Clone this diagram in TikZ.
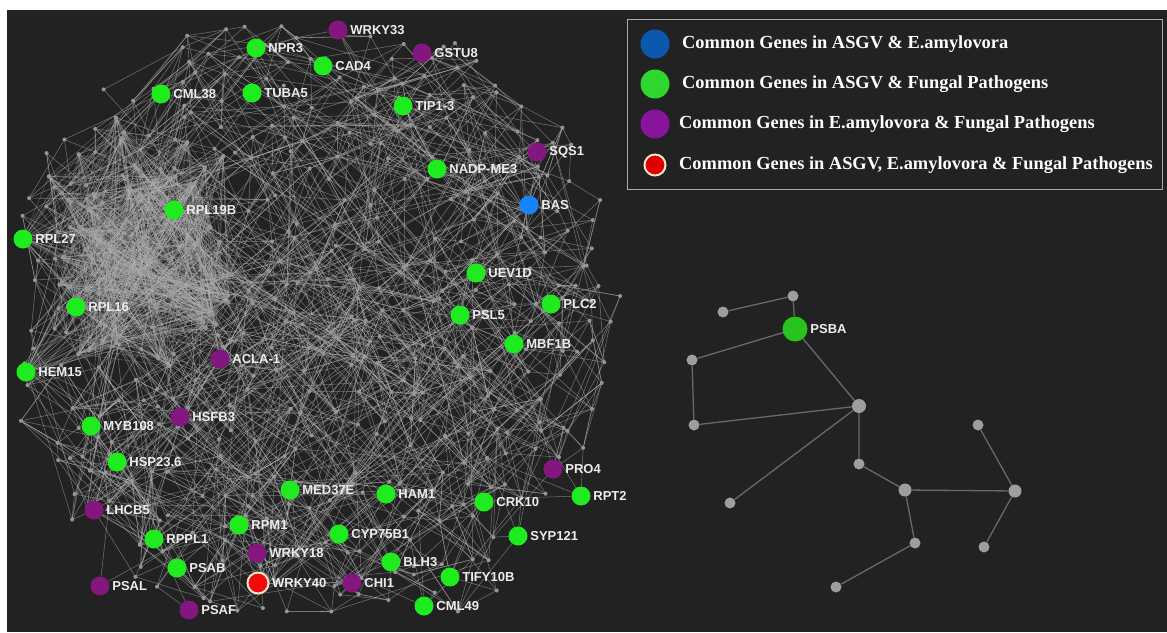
\documentclass[tikz,border=0pt]{standalone}
\usepackage{fontspec}
\setmainfont{Liberation Serif}
\setsansfont{Liberation Sans}
\usetikzlibrary{calc}

\definecolor{bgdark}{RGB}{34,34,34}
\definecolor{edgec}{RGB}{180,180,180}
\definecolor{dotc}{RGB}{150,150,150}
\definecolor{genegreen}{RGB}{30,236,30}
\definecolor{genepurple}{RGB}{132,22,128}
\definecolor{geneblue}{RGB}{22,132,250}
\definecolor{genered}{RGB}{240,12,12}
\definecolor{cream}{RGB}{245,228,200}
\definecolor{labc}{RGB}{236,236,236}
\definecolor{legblue}{RGB}{12,88,175}
\definecolor{leggreen}{RGB}{45,215,45}
\definecolor{legpurple}{RGB}{135,20,155}
\definecolor{legred}{RGB}{225,0,0}
\definecolor{psbagreen}{RGB}{40,195,28}
\definecolor{subedge}{RGB}{105,105,105}
\definecolor{subnode}{RGB}{158,158,158}
\definecolor{legframe}{RGB}{170,170,170}

\pgfdeclarelayer{backdrop}
\pgfdeclarelayer{edges}
\pgfdeclarelayer{dots}
\pgfsetlayers{backdrop,edges,dots,main}

\tikzset{
  net/.style={draw=edgec, line width=0.55pt, opacity=0.52},
  clique/.style={draw=edgec, line width=0.5pt, opacity=0.38},
  genelab/.style={text=labc, font=\sffamily\bfseries\fontsize{13}{15}\selectfont,
                  inner sep=0pt, label distance=2.5pt},
  gene/.style={circle, inner sep=0pt, minimum size=19pt,
               label={[genelab]right:#1}},
  subnet/.style={draw=subedge, line width=1.3pt},
  subdot/.style={circle, fill=subnode, inner sep=0pt, minimum size=#1},
  legdot/.style={circle, inner sep=0pt, minimum size=29pt},
  legtext/.style={anchor=west, text=white, inner sep=0pt,
                  font=\rmfamily\bfseries\fontsize{18.4}{20}\selectfont},
}

% a labelled gene: name, x, y, fill colour, text
\newcommand\genenode[5]{\node[gene={#5}, fill=#4] (#1) at (#2,#3) {};}

% jittered grid of unlabelled interaction partners
\def\gs{21}
% wire a labelled gene into the grid: name, x, y, number of tries
\newcommand\hookgene[4]{%
  \pgfmathtruncatemacro{\hr}{round((#3-14)/\gs)}%
  \pgfmathtruncatemacro{\hc}{round((#2-8)/\gs)}%
  \foreach \k in {1,...,#4}{%
    \pgfmathtruncatemacro{\rr}{\hr+random(0,8)-4}%
    \pgfmathtruncatemacro{\cc}{\hc+random(0,8)-4}%
    \ifcsname ex@\rr @\cc\endcsname
      \draw[net] (#1) -- (g-\rr-\cc);
    \fi
  }%
}

\begin{document}
\begin{tikzpicture}[x=1pt, y=-1pt]
\useasboundingbox (0,0) rectangle (1167,632);
\begin{pgfonlayer}{backdrop}
  \fill[white] (0,0) rectangle (1167,632);
  \fill[bgdark] (7,10) rectangle (1167,632);
\end{pgfonlayer}

\pgfmathsetseed{4242}

% ---- grid points inside a rounded blob with clipped corners
\foreach \r in {0,...,30}{
  \foreach \c in {0,...,30}{
    \pgfmathsetmacro{\cx}{\c*\gs+8}
    \pgfmathsetmacro{\cy}{\r*\gs+14}
    \pgfmathsetmacro{\blob}{abs((\cx-315)/303)^2.5+abs((\cy-320)/303)^2.5}
    \pgfmathtruncatemacro{\keep}{(\blob<1)&&(\cx+\cy>200)&&(\cx+0.8*\cy<960)&&(\cx-\cy<460)&&(\cx-0.4*\cy>-137)&&(rnd<0.64)}
    \ifnum\keep=1
      \pgfmathsetmacro{\px}{\cx+(rnd-0.5)*\gs*0.95}
      \pgfmathsetmacro{\py}{\cy+(rnd-0.5)*\gs*0.95}
      \coordinate (g-\r-\c) at (\px,\py);
      \expandafter\xdef\csname ex@\r @\c\endcsname{1}
    \fi
  }
}

% ---- dense ribosomal cluster on the left
\foreach \i in {1,...,58}{
  \pgfmathsetmacro{\ang}{rnd*360}
  \pgfmathsetmacro{\rad}{max(sqrt(rnd),0.2)}
  \coordinate (q-\i) at ({135+118*\rad*cos(\ang)},{245+135*\rad*sin(\ang)});
}

% ---- labelled genes
\genenode{wrky33}{338}{30}{genepurple}{WRKY33}
\genenode{gstu8}{422}{53}{genepurple}{GSTU8}
\genenode{npr3}{256}{48}{genegreen}{NPR3}
\genenode{cad4}{323}{66}{genegreen}{CAD4}
\genenode{cml38}{161}{94}{genegreen}{CML38}
\genenode{tuba5}{252}{93}{genegreen}{TUBA5}
\genenode{tip13}{403}{106}{genegreen}{TIP1-3}
\genenode{sqs1}{537}{152}{genepurple}{SQS1}
\genenode{nadpme3}{437}{169}{genegreen}{NADP-ME3}
\genenode{bas}{529}{205}{geneblue}{BAS}
\genenode{rpl19b}{174}{210}{genegreen}{RPL19B}
\genenode{rpl27}{23}{239}{genegreen}{RPL27}
\genenode{uev1d}{476}{273}{genegreen}{UEV1D}
\genenode{plc2}{551}{304}{genegreen}{PLC2}
\genenode{psl5}{460}{315}{genegreen}{PSL5}
\genenode{mbf1b}{514}{344}{genegreen}{MBF1B}
\genenode{rpl16}{76}{307}{genegreen}{RPL16}
\genenode{acla1}{220}{359}{genepurple}{ACLA-1}
\genenode{hem15}{26}{372}{genegreen}{HEM15}
\genenode{hsfb3}{180}{417}{genepurple}{HSFB3}
\genenode{myb108}{91}{426}{genegreen}{MYB108}
\genenode{hsp236}{117}{462}{genegreen}{HSP23.6}
\genenode{pro4}{553}{469}{genepurple}{PRO4}
\genenode{med37e}{290}{490}{genegreen}{MED37E}
\genenode{ham1}{386}{494}{genegreen}{HAM1}
\genenode{crk10}{484}{502}{genegreen}{CRK10}
\genenode{rpt2}{581}{496}{genegreen}{RPT2}
\genenode{lhcb5}{94}{510}{genepurple}{LHCB5}
\genenode{rpm1}{239}{525}{genegreen}{RPM1}
\genenode{cyp75b1}{339}{534}{genegreen}{CYP75B1}
\genenode{syp121}{518}{536}{genegreen}{SYP121}
\genenode{rppl1}{154}{539}{genegreen}{RPPL1}
\genenode{wrky18}{257}{553}{genepurple}{WRKY18}
\genenode{blh3}{391}{562}{genegreen}{BLH3}
\genenode{psab}{177}{568}{genegreen}{PSAB}
\genenode{tify10b}{450}{577}{genegreen}{TIFY10B}
\genenode{psal}{100}{586}{genepurple}{PSAL}
\node[gene={WRKY40}, fill=genered, draw=cream, line width=2pt, minimum size=21pt]
  (wrky40) at (258,583) {};
\genenode{chi1}{352}{583}{genepurple}{CHI1}
\genenode{psaf}{189}{610}{genepurple}{PSAF}
\genenode{cml49}{424}{606}{genegreen}{CML49}

\begin{pgfonlayer}{edges}
  % grid interactions: short local links, some long ones, a few very long ones
  \foreach \r in {0,...,30}{
    \foreach \c in {0,...,30}{
      \ifcsname ex@\r @\c\endcsname
        \foreach \k in {1,...,5}{
          \pgfmathtruncatemacro{\rr}{\r+random(0,6)-3}
          \pgfmathtruncatemacro{\cc}{\c+random(0,6)-3}
          \ifcsname ex@\rr @\cc\endcsname
            \draw[net] (g-\r-\c) -- (g-\rr-\cc);
          \fi
        }
        \foreach \k in {1,...,3}{
          \pgfmathtruncatemacro{\rr}{\r+random(0,18)-9}
          \pgfmathtruncatemacro{\cc}{\c+random(0,18)-9}
          \ifcsname ex@\rr @\cc\endcsname
            \draw[net] (g-\r-\c) -- (g-\rr-\cc);
          \fi
        }
        \pgfmathtruncatemacro{\rr}{\r+random(0,28)-14}
        \pgfmathtruncatemacro{\cc}{\c+random(0,28)-14}
        \ifcsname ex@\rr @\cc\endcsname
          \draw[net] (g-\r-\c) -- (g-\rr-\cc);
        \fi
      \fi
    }
  }
  % the left cluster is almost fully connected
  \foreach \i in {1,...,58}{
    \foreach \j in {1,...,58}{
      \pgfmathtruncatemacro{\pick}{(\j>\i)&&(rnd<0.45)}
      \ifnum\pick=1 \draw[clique] (q-\i) -- (q-\j); \fi
    }
  }
  \foreach \g in {rpl27,rpl19b,rpl16,hem15}{
    \foreach \j in {1,...,58}{
      \pgfmathtruncatemacro{\pick}{rnd<0.45}
      \ifnum\pick=1 \draw[clique] (\g) -- (q-\j); \fi
    }
  }
  % labelled genes into the grid
  \hookgene{wrky33}{338}{30}{8}
  \hookgene{gstu8}{422}{53}{8}
  \hookgene{npr3}{256}{48}{8}
  \hookgene{cad4}{323}{66}{8}
  \hookgene{cml38}{161}{94}{8}
  \hookgene{tuba5}{252}{93}{8}
  \hookgene{tip13}{403}{106}{8}
  \hookgene{sqs1}{537}{152}{8}
  \hookgene{nadpme3}{437}{169}{8}
  \hookgene{bas}{529}{205}{8}
  \hookgene{rpl19b}{174}{210}{5}
  \hookgene{rpl27}{23}{239}{5}
  \hookgene{uev1d}{476}{273}{8}
  \hookgene{plc2}{551}{304}{8}
  \hookgene{psl5}{460}{315}{8}
  \hookgene{mbf1b}{514}{344}{8}
  \hookgene{rpl16}{76}{307}{5}
  \hookgene{acla1}{220}{359}{8}
  \hookgene{hem15}{26}{372}{10}
  \hookgene{hsfb3}{180}{417}{8}
  \hookgene{myb108}{91}{426}{10}
  \hookgene{hsp236}{117}{462}{10}
  \hookgene{pro4}{553}{469}{10}
  \hookgene{med37e}{290}{490}{8}
  \hookgene{ham1}{386}{494}{8}
  \hookgene{crk10}{484}{502}{8}
  \hookgene{rpt2}{581}{496}{10}
  \hookgene{lhcb5}{94}{510}{12}
  \hookgene{rpm1}{239}{525}{8}
  \hookgene{cyp75b1}{339}{534}{8}
  \hookgene{syp121}{518}{536}{10}
  \hookgene{rppl1}{154}{539}{10}
  \hookgene{wrky18}{257}{553}{8}
  \hookgene{blh3}{391}{562}{8}
  \hookgene{psab}{177}{568}{10}
  \hookgene{tify10b}{450}{577}{10}
  \hookgene{psal}{100}{586}{14}
  \hookgene{wrky40}{258}{583}{10}
  \hookgene{chi1}{352}{583}{10}
  \hookgene{psaf}{189}{610}{14}
  \hookgene{cml49}{424}{606}{14}
\end{pgfonlayer}

\begin{pgfonlayer}{dots}
  \foreach \r in {0,...,30}{
    \foreach \c in {0,...,30}{
      \ifcsname ex@\r @\c\endcsname
        \fill[dotc] (g-\r-\c) circle (2);
      \fi
    }
  }
  \foreach \i in {1,...,58}{ \fill[dotc] (q-\i) circle (2.2); }
\end{pgfonlayer}

% ---- separate small component around PSBA
\node[subdot=11pt] (sa) at (793,296) {};
\node[subdot=11pt] (sb) at (723,312) {};
\node[gene={PSBA}, fill=psbagreen, minimum size=25pt, label distance=2pt] (psba) at (795,329) {};
\node[subdot=11pt] (sc) at (692,360) {};
\node[subdot=14pt] (sd) at (859,406) {};
\node[subdot=11pt] (se) at (694,425) {};
\node[subdot=11pt] (sf) at (730,503) {};
\node[subdot=11pt] (sg) at (859,464) {};
\node[subdot=13pt] (sh) at (905,490) {};
\node[subdot=11pt] (si) at (978,425) {};
\node[subdot=13pt] (sj) at (1015,491) {};
\node[subdot=11pt] (sk) at (915,543) {};
\node[subdot=11pt] (sl) at (984,547) {};
\node[subdot=11pt] (sm) at (836,587) {};
\begin{pgfonlayer}{edges}
  \draw[subnet] (sb) -- (sa) (sa) -- (psba) (psba) -- (sc) (sc) -- (se)
    (se) -- (sd) (psba) -- (sd) (sd) -- (sf) (sd) -- (sg) (sg) -- (sh)
    (sh) -- (sj) (sh) -- (sk) (sk) -- (sm) (si) -- (sj) (sj) -- (sl);
\end{pgfonlayer}

% ---- legend
\node[draw=legframe, line width=1pt, inner sep=0pt, minimum width=535pt,
      minimum height=170pt, anchor=north west] (legend) at (627,19) {};
\node[legdot, fill=legblue] (lb) at (655,44) {};
\node[legdot, fill=leggreen] (lg) at (655,84) {};
\node[legdot, fill=legpurple] (lp) at (655,124) {};
\node[circle, inner sep=0pt, minimum size=21pt, fill=legred, draw=cream, line width=2pt] (lr) at (655,165) {};
\node[legtext] (tb) at (682,44) {Common Genes in ASGV \& E.amylovora};
\node[legtext] (tg) at (682,84) {Common Genes in ASGV \& Fungal Pathogens};
\node[legtext] (tp) at (679,124) {Common Genes in E.amylovora \& Fungal Pathogens};
\node[legtext] (tr) at (679,165) {Common Genes in ASGV, E.amylovora \& Fungal Pathogens};
\end{tikzpicture}
\end{document}
